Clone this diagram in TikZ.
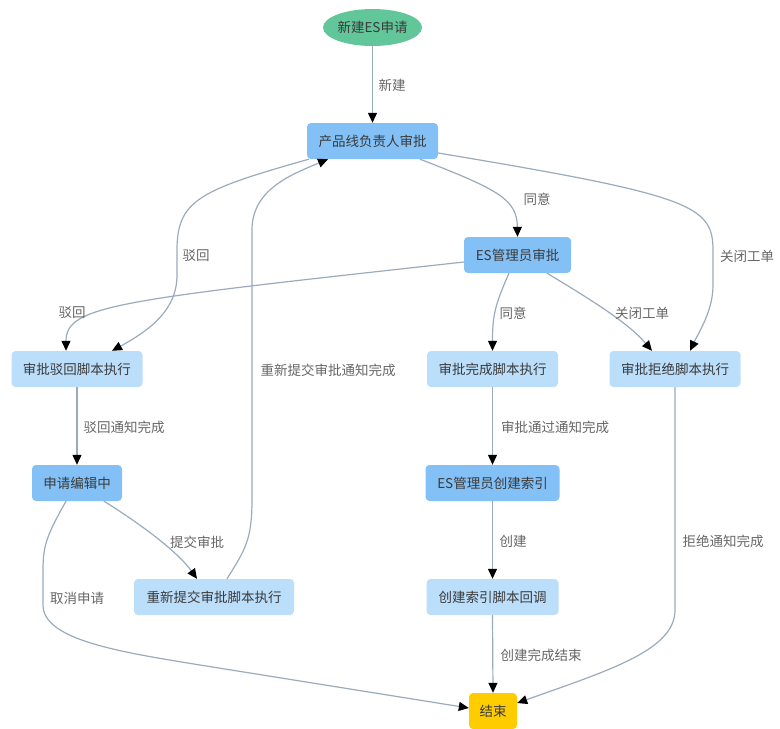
\documentclass[tikz,border=0pt]{standalone}
\usepackage{fontspec}
\setmainfont{Noto Sans CJK SC}
\usetikzlibrary{arrows.meta,calc,shapes.geometric}
\definecolor{gnode}{HTML}{61C699}
\definecolor{dnode}{HTML}{82C0F5}
\definecolor{lnode}{HTML}{BBDEFB}
\definecolor{ynode}{HTML}{FFCC00}
\definecolor{edgec}{HTML}{9AABBD}
\definecolor{txt}{HTML}{3A3A3A}
\definecolor{ltxt}{HTML}{666666}
\tikzset{
  base/.style={inner sep=0pt, minimum height=36pt, text=txt, font=\fontsize{13.5}{16}\selectfont},
  dbox/.style={base, rectangle, rounded corners=4pt, fill=dnode},
  lbox/.style={base, rectangle, rounded corners=4pt, fill=lnode},
  ybox/.style={base, rectangle, rounded corners=4pt, fill=ynode},
  startnode/.style={base, ellipse, fill=gnode, minimum width=93pt, minimum height=37pt},
  lab/.style={inner sep=0pt, text=ltxt, font=\fontsize{13.5}{16}\selectfont},
  flow/.style={draw=edgec, line width=1.2pt, -{Triangle[length=10pt,width=9pt,black]}}
}
\begin{document}
\begin{tikzpicture}[x=1pt,y=-1pt]
\path[use as bounding box] (0,0) rectangle (780,729);
% nodes
\node[startnode] (st) at (372.5,27.5) {新建ES申请};
\node[dbox, minimum width=131pt] (p) at (372.5,141) {产品线负责人审批};
\node[dbox, minimum width=107pt] (es) at (517.5,255) {ES管理员审批};
\node[lbox, minimum width=131pt] (rb) at (77,369) {审批驳回脚本执行};
\node[lbox, minimum width=131pt] (ok) at (492.5,369) {审批完成脚本执行};
\node[lbox, minimum width=131pt] (rj) at (675,369) {审批拒绝脚本执行};
\node[dbox, minimum width=90pt] (ed) at (77,483) {申请编辑中};
\node[dbox, minimum width=134pt] (ix) at (492.5,483) {ES管理员创建索引};
\node[lbox, minimum width=160pt] (rs) at (214,597) {重新提交审批脚本执行};
\node[lbox, minimum width=132pt] (cb) at (492.5,597) {创建索引脚本回调};
\node[ybox, minimum width=48pt] (en) at (493,711) {结束};
% edges
\draw[flow] (st.south) -- (p.north);
\draw[flow] ($(p.south)+(47.5,0)$) .. controls (500,190) and (517,200) .. (es.north);
\draw[flow] ($(p.east)+(0,12)$) .. controls (690,195) and (713,205) .. (713,250) -- (713,285) .. controls (713,310) and (700,330) .. ($(rj.north)+(15,0)$);
\draw[flow] ($(p.south west)+(2,0)$) .. controls (200,190) and (177,200) .. (177,250) -- (177,275) .. controls (177,310) and (150,330) .. ($(rb.north)+(35,0)$);
\draw[flow] ($(es.west)+(0,7)$) .. controls (120,300) and (66,305) .. ($(rb.north)+(-11,0)$);
\draw[flow] ($(es.south)+(-8.5,0)$) .. controls (495,305) and (492.5,315) .. (ok.north);
\draw[flow] ($(es.south)+(29.5,0)$) .. controls (600,305) and (630,325) .. ($(rj.north)+(-23,0)$);
\draw[flow] (rb.south) -- (ed.north);
\draw[flow] (ok.south) -- (ix.north);
\draw[flow] ($(ed.south)+(27,0)$) .. controls (150,530) and (180,555) .. ($(rs.north)+(-17,0)$);
\draw[flow] ($(rs.north)+(13,0)$) .. controls (245,550) and (252,540) .. (252,500) -- (252,230) .. controls (252,190) and (290,175) .. ($(p.south)+(-44.5,0)$);
\draw[flow] ($(ed.south)+(-11,0)$) .. controls (47,535) and (43,545) .. (43,570) -- (43,605) .. controls (43,640) and (120,652) .. (200,665) -- ($(en.west)+(0,-3)$);
\draw[flow] (ix.south) -- (cb.north);
\draw[flow] (cb.south) -- (en.north);
\draw[flow] (rj.south) -- (675,610) .. controls (675,650) and (610,670) .. ($(en.east)+(0,-8)$);
% labels
\node[lab] (l1) at (392,85) {新建};
\node[lab] (l2) at (537,199) {同意};
\node[lab] (l3) at (747,256) {关闭工单};
\node[lab] (l4) at (196,256) {驳回};
\node[lab] (l5) at (72,313) {驳回};
\node[lab] (l6) at (513,313) {同意};
\node[lab] (l7) at (642,313) {关闭工单};
\node[lab] (l8) at (328,370) {重新提交审批通知完成};
\node[lab] (l9) at (124,427) {驳回通知完成};
\node[lab] (l10) at (555,427) {审批通过通知完成};
\node[lab] (l11) at (197,542) {提交审批};
\node[lab] (l12) at (513,541) {创建};
\node[lab] (l13) at (723,541) {拒绝通知完成};
\node[lab] (l14) at (77,598) {取消申请};
\node[lab] (l15) at (541,655) {创建完成结束};
\end{tikzpicture}
\end{document}
